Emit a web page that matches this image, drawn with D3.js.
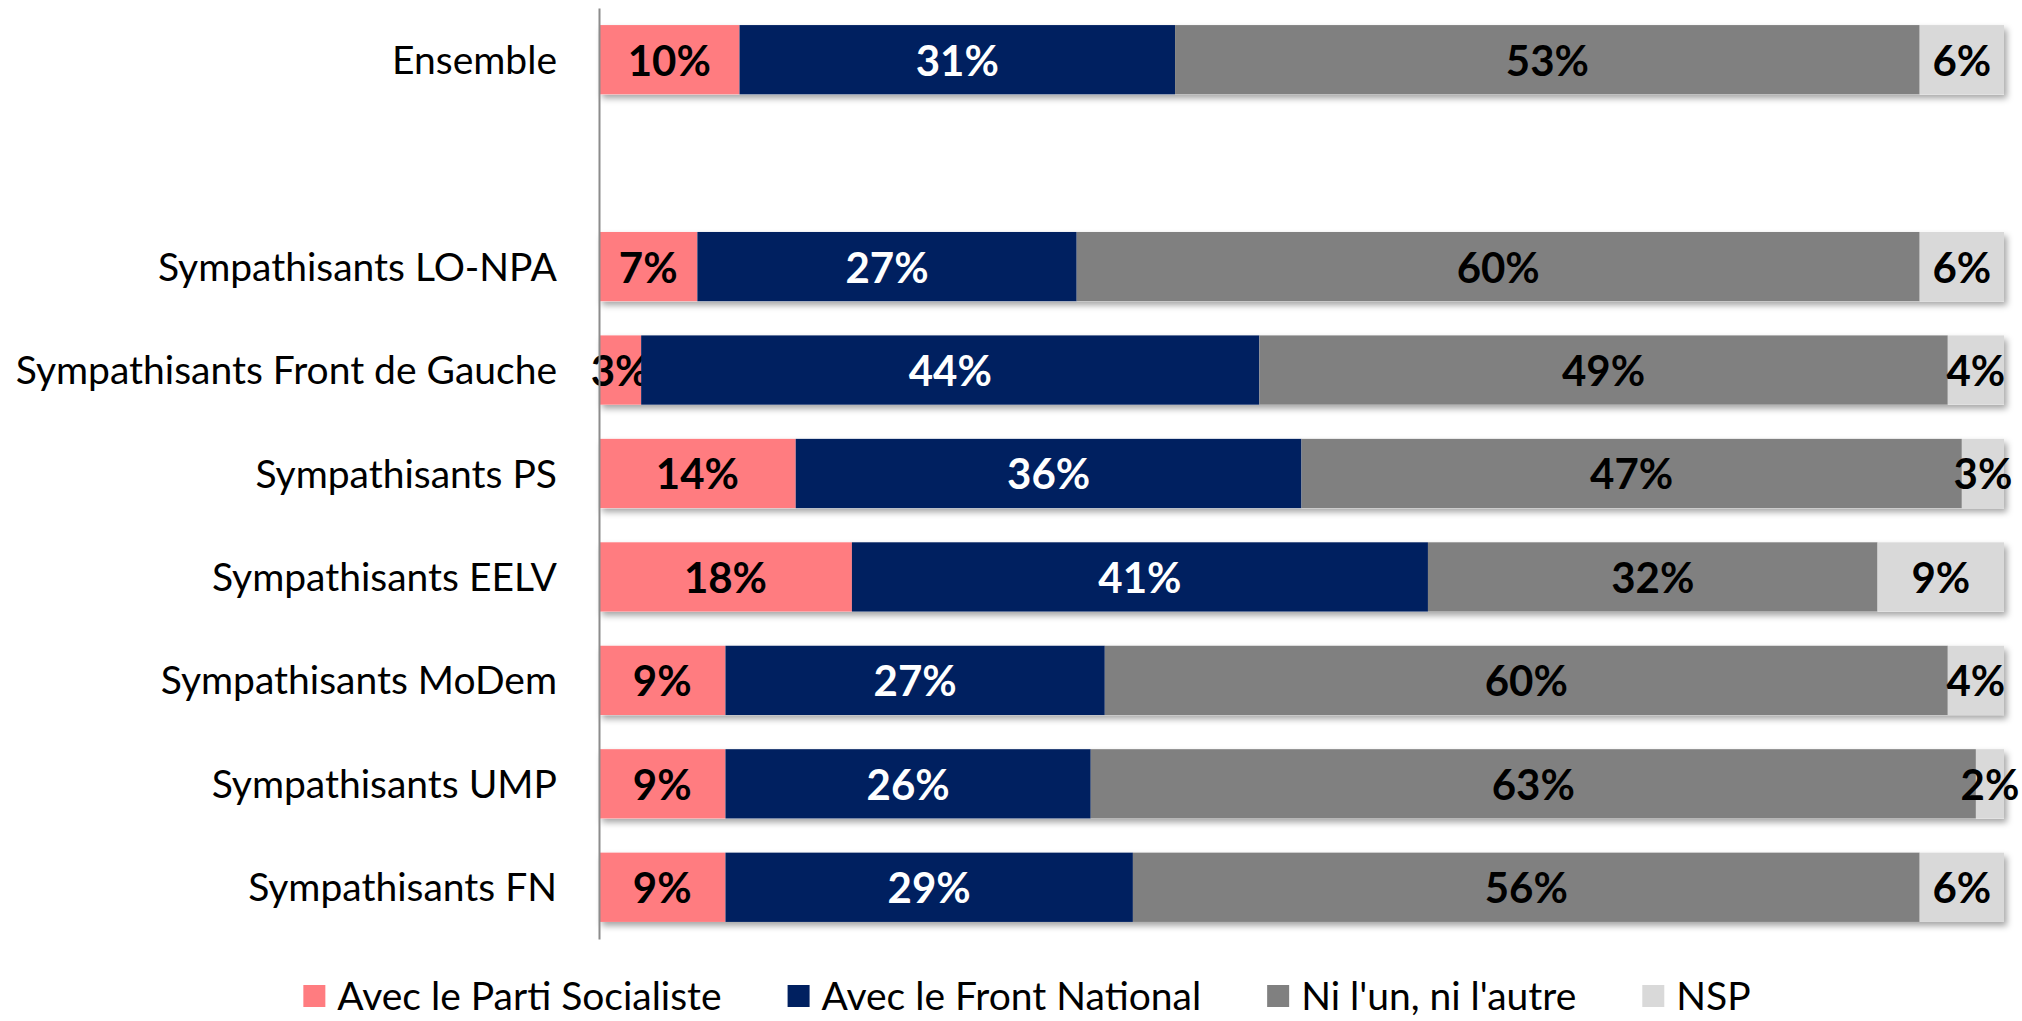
<!DOCTYPE html>
<html>
<head>
<meta charset="utf-8">
<script src="https://cdn.jsdelivr.net/npm/d3@7"></script>
<style>
  body { margin: 0; background: #fff; }
  svg { display: block; font-family: Lato, 'Open Sans', sans-serif; }
</style>
</head>
<body>
<div id="chart"></div>
<script>
// categories, with an empty slot between "Ensemble" and the party rows
const categories = [
  'Ensemble',
  ' ',
  'Sympathisants LO-NPA',
  'Sympathisants Front de Gauche',
  'Sympathisants PS',
  'Sympathisants EELV',
  'Sympathisants MoDem',
  'Sympathisants UMP',
  'Sympathisants FN'
];
const seriesNames = ['Avec le Parti Socialiste', 'Avec le Front National', "Ni l'un, ni l'autre", 'NSP'];
const avecPS = [10, null, 7, 3, 14, 18, 9, 9, 9];
const avecFN = [31, null, 27, 44, 36, 41, 27, 26, 29];
const niLunNiLautre = [53, null, 60, 49, 47, 32, 60, 63, 56];
const nsp = [6, null, 6, 4, 3, 9, 4, 2, 6];

const colors = ['#FF7C80', '#002060', '#808080', '#D9D9D9'];
const labelColors = ['#000', '#fff', '#000', '#000'];

const drawChart = (id) => {
  const width = 2022;
  const height = 1021;
  const margin = { top: 8, left: 599, right: 18, bottom: 82 };

  const svg = d3
    .select(`#${id}`)
    .append('svg')
    .attr('width', width)
    .attr('height', height);

  const defs = svg.append('defs');
  defs
    .append('filter')
    .attr('id', 'shadow')
    .attr('x', '-5%')
    .attr('y', '-20%')
    .attr('width', '110%')
    .attr('height', '160%')
    .append('feDropShadow')
    .attr('dx', 3)
    .attr('dy', 4)
    .attr('stdDeviation', 3)
    .attr('flood-color', '#000')
    .attr('flood-opacity', 0.35);

  const rows = categories.map((c, i) => ({
    cat: c,
    [seriesNames[0]]: avecPS[i],
    [seriesNames[1]]: avecFN[i],
    [seriesNames[2]]: niLunNiLautre[i],
    [seriesNames[3]]: nsp[i]
  }));

  const y = d3
    .scaleBand()
    .domain(categories)
    .range([margin.top, height - margin.bottom])
    .paddingInner(0.33)
    .paddingOuter(0.165);

  const x = d3
    .scaleLinear()
    .domain([0, 100])
    .range([margin.left, width - margin.right]);

  const filled = rows.filter((r) => r[seriesNames[0]] !== null);
  const stacked = d3.stack().keys(seriesNames)(filled);

  // shadow behind each full bar
  const bars = svg.append('g');
  bars
    .selectAll('.shadow')
    .data(filled)
    .enter()
    .append('rect')
    .attr('x', x(0))
    .attr('y', (d) => y(d.cat))
    .attr('width', x(100) - x(0))
    .attr('height', y.bandwidth())
    .attr('fill', '#fff')
    .attr('filter', 'url(#shadow)');

  const layers = bars
    .selectAll('.layer')
    .data(stacked)
    .enter()
    .append('g')
    .attr('fill', (d, i) => colors[i]);

  layers
    .selectAll('rect')
    .data((d) => d)
    .enter()
    .append('rect')
    .attr('x', (d) => x(d[0]))
    .attr('y', (d) => y(d.data.cat))
    .attr('width', (d) => x(d[1]) - x(d[0]))
    .attr('height', y.bandwidth());

  layers
    .selectAll('text')
    .data((d, i) => d.map((p) => ({ p, i, key: d.key })))
    .enter()
    .append('text')
    .attr('x', (d) => (x(d.p[0]) + x(d.p[1])) / 2)
    .attr('y', (d) => y(d.p.data.cat) + y.bandwidth() / 2)
    .attr('dy', '0.38em')
    .attr('text-anchor', 'middle')
    .attr('font-size', 42)
    .attr('font-weight', 'bold')
    .attr('fill', (d) => labelColors[d.i])
    .text((d) => `${d.p.data[d.key]}%`);

  const axis = svg
    .append('g')
    .attr('transform', `translate(${margin.left},0)`)
    .call(d3.axisLeft(y).tickSize(0).tickSizeOuter(0).tickPadding(42));
  axis.select('.domain').attr('stroke', '#8c8c8c').attr('stroke-width', 2);
  axis
    .selectAll('text')
    .attr('font-family', 'Lato, sans-serif')
    .attr('font-size', 39)
    .attr('dy', '0.36em')
    .attr('fill', '#000');

  // legend
  const legend = svg.append('g').attr('transform', `translate(0, 996)`);
  const items = legend
    .selectAll('.item')
    .data(seriesNames)
    .enter()
    .append('g');
  items
    .append('rect')
    .attr('x', 0)
    .attr('y', -11)
    .attr('width', 22)
    .attr('height', 22)
    .attr('fill', (d, i) => colors[i]);
  items
    .append('text')
    .attr('x', 34)
    .attr('dy', '0.36em')
    .attr('font-size', 39)
    .attr('fill', '#000')
    .text((d) => d);

  let offset = 0;
  const positions = [];
  items.each(function() {
    positions.push(offset);
    const w = 34 + this.querySelector('text').getComputedTextLength();
    offset += w + 66;
  });
  const total = offset - 66;
  const start = 1027 - total / 2;
  items.attr('transform', (d, i) => `translate(${start + positions[i]},0)`);
};

drawChart('chart');
</script>
</body>
</html>
